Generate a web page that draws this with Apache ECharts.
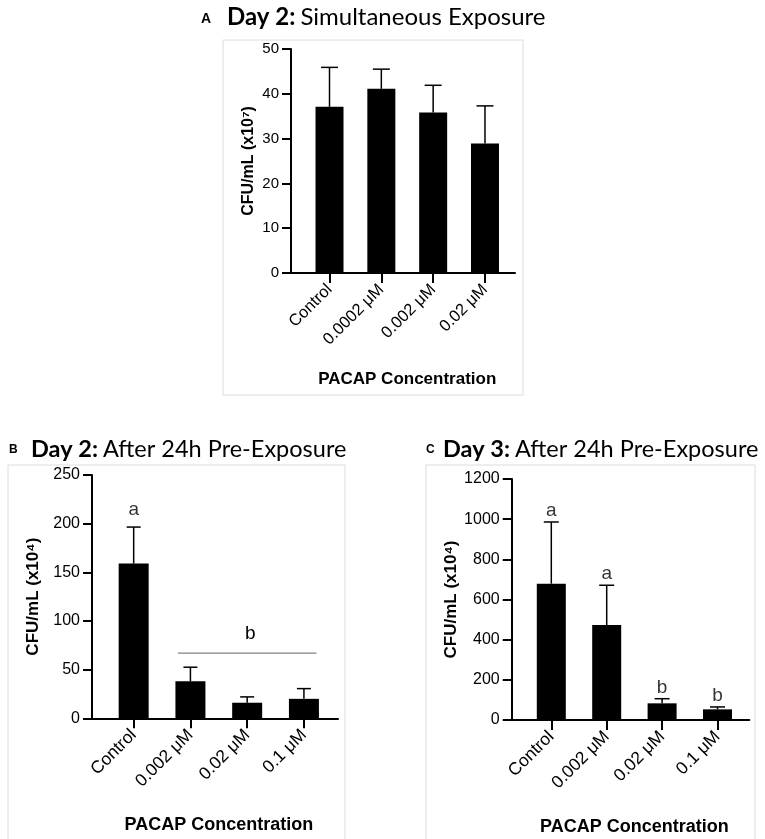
<!DOCTYPE html>
<html>
<head>
<meta charset="utf-8">
<script src="https://cdn.jsdelivr.net/npm/echarts@6/dist/echarts.min.js"></script>
<style>
  html, body { margin: 0; padding: 0; background: #fff; }
  #chart { width: 765px; height: 839px; }
</style>
</head>
<body>
<div id="chart"></div>
<script>
// 数据
var catsA = ['Control', '0.0002 μM', '0.002 μM', '0.02 μM'];
var meanA = [37.1, 41.1, 35.8, 28.9];
var sdA = [8.8, 4.4, 6.1, 8.4];
var ticksA = [0, 50, 10];            // min, max, interval

var catsB = ['Control', '0.002 μM', '0.02 μM', '0.1 μM'];
var meanB = [159, 38, 16, 20];
var sdB = [37.5, 14.5, 6, 10.5];
var ticksB = [0, 250, 50];
var lettersB = ['a', '', '', ''];
var bracketB = [1, 3, 67, 'b'];      // from cat, to cat, height, letter

var catsC = ['Control', '0.002 μM', '0.02 μM', '0.1 μM'];
var meanC = [679, 473, 83, 53];
var sdC = [307, 198, 23, 12];
var ticksC = [0, 1200, 200];
var lettersC = ['a', 'a', 'b', 'b'];

var AXIS_FONT = 'Liberation Sans, Arial, sans-serif';
var TITLE_FONT = 'Lato, Open Sans, sans-serif';

var myChart = echarts.init(document.getElementById('chart'));

// 每个面板两个 grid：frame 画坐标轴线和 y 轴，bars 画柱子和分类标签
var panels = [
    {cats: catsA, mean: meanA, sd: sdA, ticks: ticksA, letters: null, dist: 6,
     yName: 'CFU/mL (x10⁷)', yGap: 34, frame: [291, 49, 224, 224], bars: [303.6, 207.3],
     barWidth: 28, cap: 17, tickFont: 15, catFont: 16.5, nameFont: 16, xNameFont: 17},
    {cats: catsB, mean: meanB, sd: sdB, ticks: ticksB, letters: lettersB, dist: 7,
     yName: 'CFU/mL (x10⁴)', yGap: 50, frame: [92, 475, 246, 243.3], bars: [105.3, 227],
     barWidth: 30, cap: 14, tickFont: 16, catFont: 17.5, nameFont: 17, xNameFont: 18},
    {cats: catsC, mean: meanC, sd: sdC, ticks: ticksC, letters: lettersC, dist: 1,
     yName: 'CFU/mL (x10⁴)', yGap: 47, frame: [511.7, 479, 237.6, 241], bars: [523.6, 221.6],
     barWidth: 29, cap: 15, tickFont: 16, catFont: 17.5, nameFont: 17, xNameFont: 18}
];

var grid = [], xAxis = [], yAxis = [], series = [];

panels.forEach(function (p, k) {
    var f = p.frame;
    grid.push({left: f[0], top: f[1], width: f[2], height: f[3]});
    grid.push({left: p.bars[0], top: f[1], width: p.bars[1], height: f[3]});
    var gFrame = 2 * k, gBars = 2 * k + 1;

    xAxis.push({
        gridIndex: gFrame, type: 'value', min: 0, max: 1,
        axisLine: {show: true, onZero: false, lineStyle: {color: '#000', width: 2}},
        axisTick: {show: false}, axisLabel: {show: false}, splitLine: {show: false}
    });
    yAxis.push({
        gridIndex: gFrame, type: 'value',
        min: p.ticks[0], max: p.ticks[1], interval: p.ticks[2],
        axisLine: {show: true, lineStyle: {color: '#000', width: 2}},
        axisTick: {show: true, length: 9, lineStyle: {color: '#000', width: 2}},
        axisLabel: {color: '#000', fontSize: p.tickFont, fontFamily: AXIS_FONT, margin: 12,
                    formatter: function (v) { return String(v); }},
        splitLine: {show: false},
        name: p.yName, nameLocation: 'middle', nameGap: p.yGap,
        nameTextStyle: {color: '#000', fontSize: p.nameFont, fontWeight: 'bold', fontFamily: AXIS_FONT}
    });

    xAxis.push({
        gridIndex: gBars, type: 'category', data: p.cats,
        axisLine: {show: false},
        axisTick: {show: true, alignWithLabel: true, length: 10, lineStyle: {color: '#000', width: 2}},
        axisLabel: {interval: 0, rotate: 45, margin: 14, color: '#000', fontSize: p.catFont, fontFamily: AXIS_FONT},
        name: 'PACAP Concentration', nameLocation: 'middle', nameGap: 98,
        nameTextStyle: {color: '#000', fontSize: p.xNameFont, fontWeight: 'bold', fontFamily: AXIS_FONT}
    });
    yAxis.push({
        gridIndex: gBars, type: 'value', show: false,
        min: p.ticks[0], max: p.ticks[1], interval: p.ticks[2]
    });

    var axisIdx = gBars;
    series.push({
        type: 'bar', xAxisIndex: axisIdx, yAxisIndex: axisIdx,
        data: p.mean, barWidth: p.barWidth, silent: true,
        itemStyle: {color: '#000'}
    });

    // 误差线（只画上半部分）
    var errData = [];
    for (var i = 0; i < p.mean.length; i++) {
        errData.push([i, p.mean[i], p.sd[i]]);
    }
    series.push({
        type: 'custom', xAxisIndex: axisIdx, yAxisIndex: axisIdx, silent: true, z: 3,
        data: errData,
        renderItem: (function (capW) {
            return function (params, api) {
                var base = api.coord([api.value(0), api.value(1)]);
                var top = api.coord([api.value(0), api.value(1) + api.value(2)]);
                var style = {stroke: '#000', lineWidth: 1.5};
                return {
                    type: 'group',
                    children: [
                        {type: 'line', shape: {x1: base[0], y1: base[1], x2: top[0], y2: top[1]}, style: style},
                        {type: 'line', shape: {x1: top[0] - capW / 2, y1: top[1], x2: top[0] + capW / 2, y2: top[1]}, style: style}
                    ]
                };
            };
        })(p.cap)
    });

    // 显著性字母
    if (p.letters) {
        var letterData = [];
        for (var j = 0; j < p.mean.length; j++) {
            if (p.letters[j]) {
                letterData.push({value: [j, p.mean[j] + p.sd[j]], letter: p.letters[j]});
            }
        }
        series.push({
            type: 'scatter', xAxisIndex: axisIdx, yAxisIndex: axisIdx, silent: true,
            symbolSize: 1, itemStyle: {color: 'transparent'},
            data: letterData,
            label: {
                show: true, position: 'top', distance: p.dist,
                formatter: function (d) { return d.data.letter; },
                color: '#000', fontSize: 19, fontFamily: AXIS_FONT
            }
        });
    }
});

// B 图的分组横线
series.push({
    type: 'custom', xAxisIndex: 3, yAxisIndex: 3, silent: true,
    data: [bracketB],
    renderItem: function (params, api) {
        var a = api.coord([api.value(0), api.value(2)]);
        var b = api.coord([api.value(1), api.value(2)]);
        var ext = api.size([1, 0])[0] * 0.22;
        return {
            type: 'group',
            children: [
                {type: 'line', shape: {x1: a[0] - ext, y1: a[1], x2: b[0] + ext, y2: b[1]},
                 style: {stroke: '#808080', lineWidth: 1.2}},
                {type: 'text', x: (a[0] + b[0]) / 2 + 3, y: a[1] - 10,
                 style: {text: bracketB[3], fill: '#000', fontSize: 19, fontFamily: AXIS_FONT,
                         align: 'center', verticalAlign: 'bottom'}}
            ]
        };
    }
});

function titleRich(size) {
    return {
        b: {fontFamily: TITLE_FONT, fontWeight: 'bold', fontSize: size, color: '#000'},
        r: {fontFamily: TITLE_FONT, fontWeight: 'normal', fontSize: size, color: '#000'}
    };
}
var letterStyle = {fontFamily: AXIS_FONT, fontWeight: 'bold', color: '#000'};

var option = {
    backgroundColor: '#fff',
    animation: false,
    title: [
        {text: 'A', left: 196, top: 7, textStyle: Object.assign({fontSize: 14}, letterStyle)},
        {text: '{b|Day 2:} {r|Simultaneous Exposure}', left: 222, top: 0, textStyle: {fontWeight: 'normal', rich: titleRich(24)}},
        {text: 'B', left: 4, top: 439, textStyle: Object.assign({fontSize: 12}, letterStyle)},
        {text: '{b|Day 2:} {r|After 24h Pre-Exposure}', left: 26, top: 432, textStyle: {fontWeight: 'normal', rich: titleRich(23.5)}},
        {text: 'C', left: 421, top: 439, textStyle: Object.assign({fontSize: 12}, letterStyle)},
        {text: '{b|Day 3:} {r|After 24h Pre-Exposure}', left: 438, top: 432, textStyle: {fontWeight: 'normal', rich: titleRich(23.5)}}
    ],
    graphic: [
        {type: 'rect', shape: {x: 223, y: 40, width: 300, height: 355}, silent: true,
         style: {fill: 'none', stroke: '#dcdcdc', lineWidth: 1}},
        {type: 'rect', shape: {x: 8, y: 465, width: 337, height: 400}, silent: true,
         style: {fill: 'none', stroke: '#dcdcdc', lineWidth: 1}},
        {type: 'rect', shape: {x: 426, y: 465, width: 329, height: 400}, silent: true,
         style: {fill: 'none', stroke: '#dcdcdc', lineWidth: 1}}
    ],
    grid: grid,
    xAxis: xAxis,
    yAxis: yAxis,
    series: series
};

myChart.setOption(option);
</script>
</body>
</html>
